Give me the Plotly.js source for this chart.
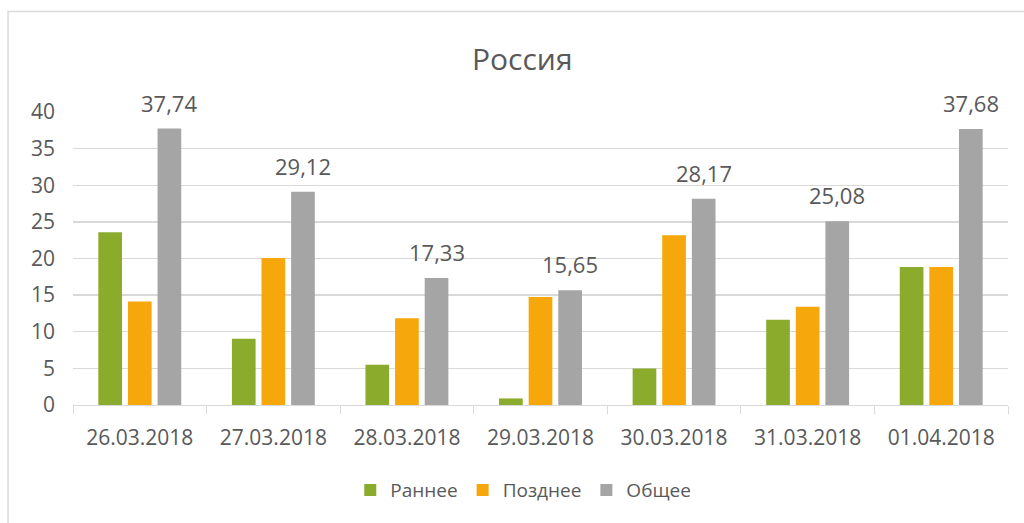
<!DOCTYPE html>
<html>
<head>
<meta charset="utf-8">
<script src="https://cdn.plot.ly/plotly-3.0.1.min.js"></script>
<style>
  html, body { margin: 0; padding: 0; background: #ffffff; }
  #chart { width: 1024px; height: 523px; }
</style>
</head>
<body>
<div id="chart"></div>
<script>
const categories = ["26.03.2018", "27.03.2018", "28.03.2018", "29.03.2018", "30.03.2018", "31.03.2018", "01.04.2018"];
const early = [23.6, 9.05, 5.5, 0.9, 5.0, 11.65, 18.84];
const late = [14.14, 20.07, 11.83, 14.75, 23.17, 13.43, 18.84];
const total = [37.74, 29.12, 17.33, 15.65, 28.17, 25.08, 37.68];
const seriesNames = ["Раннее", "Позднее", "Общее"];
const yTicks = [0, 5, 10, 15, 20, 25, 30, 35, 40];

const colors = ["#8AAB2C", "#F5A70B", "#A5A5A5"];
const textColor = "#595959";
const gridColor = "#D9D9D9";
const fontFamily = "'Open Sans', 'Noto Sans', sans-serif";

const traces = [early, late, total].map((vals, i) => ({
  type: "bar",
  name: seriesNames[i],
  x: categories,
  y: vals,
  marker: { color: colors[i], line: { width: 0 } },
  hoverinfo: "skip"
}));

const annotations = total.map((v, i) => ({
  x: i + 0.222,
  y: v,
  xref: "x",
  yref: "y",
  text: v.toFixed(2).replace(".", ","),
  showarrow: false,
  xanchor: "center",
  yanchor: "middle",
  yshift: 26,
  font: { family: fontFamily, size: 22, color: textColor }
}));

const layout = {
  width: 1024,
  height: 523,
  autosize: false,
  margin: { l: 73, r: 16, t: 112, b: 118, autoexpand: false },
  paper_bgcolor: "#ffffff",
  plot_bgcolor: "#ffffff",
  font: { family: fontFamily, color: textColor },
  title: {
    text: "Россия",
    font: { family: fontFamily, size: 30, color: textColor },
    x: 0.51, xref: "container", xanchor: "center",
    y: 0.887, yref: "container", yanchor: "middle",
    automargin: false
  },
  barmode: "group",
  bargap: 0.335,
  bargroupgap: 0.2,
  showlegend: true,
  legend: {
    orientation: "h",
    x: 0.511, xref: "container", xanchor: "center",
    y: 0.063, yref: "container", yanchor: "middle",
    font: { family: fontFamily, size: 19, color: textColor },
    traceorder: "normal",
    itemclick: false
  },
  xaxis: {
    type: "category",
    automargin: false,
    tickangle: 0,
    tickson: "boundaries",
    ticks: "outside",
    ticklen: 8,
    tickcolor: gridColor,
    tickwidth: 1,
    showline: true,
    linecolor: gridColor,
    linewidth: 1.3,
    showgrid: false,
    zeroline: false,
    tickfont: { family: fontFamily, size: 21, color: textColor },
    ticklabelstandoff: 13,
    fixedrange: true
  },
  yaxis: {
    automargin: false,
    range: [0, 40],
    tickvals: yTicks,
    ticktext: yTicks.map(String),
    showgrid: true,
    gridcolor: gridColor,
    gridwidth: 1.3,
    zeroline: false,
    showline: false,
    ticks: "",
    tickfont: { family: fontFamily, size: 21, color: textColor },
    ticklabelstandoff: 17,
    fixedrange: true
  },
  annotations: annotations,
  shapes: [{
    type: "rect",
    xref: "paper", yref: "paper",
    x0: -0.0695, x1: 1.03, y0: -0.43, y1: 1.3428,
    line: { color: gridColor, width: 1.5 },
    fillcolor: "rgba(0,0,0,0)",
    layer: "above"
  }]
};

Plotly.newPlot("chart", traces, layout, { displayModeBar: false, staticPlot: true });
</script>
</body>
</html>
